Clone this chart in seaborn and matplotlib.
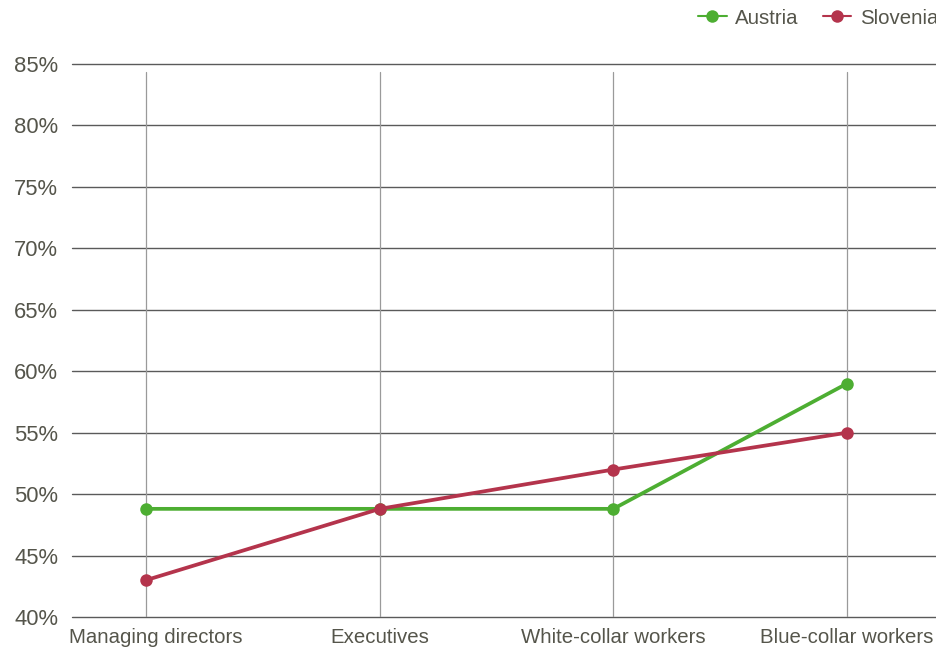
import matplotlib
matplotlib.use("Agg")
import matplotlib.pyplot as plt
import matplotlib.transforms as mtransforms
import seaborn as sns
import pandas as pd

categories = ["Managing directors", "Executives", "White-collar workers", "Blue-collar workers"]
austria = [48.8, 48.8, 48.8, 59.0]
slovenia = [43.0, 48.8, 52.0, 55.0]
y_ticks = [40, 45, 50, 55, 60, 65, 70, 75, 80, 85]
y_tick_labels = [f"{v}%" for v in y_ticks]

colors = {"Austria": "#4dae32", "Slovenia": "#b4344c"}
text_color = "#55554b"
fs = 14.7

df = pd.DataFrame({
    "category": categories * 2,
    "value": austria + slovenia,
    "country": ["Austria"] * len(categories) + ["Slovenia"] * len(categories),
})

sns.set_theme(style="white")
plt.rcParams["font.family"] = ["Liberation Sans", "DejaVu Sans"]

fig = plt.figure(figsize=(9.37, 6.48), dpi=100)
ax = fig.add_axes([72 / 937, 1 - 617 / 648, 1 - 72 / 937, (617 - 64) / 648])

sns.lineplot(data=df, x="category", y="value", hue="country", palette=colors,
             marker="o", markersize=9, markeredgewidth=0, linewidth=2.7,
             sort=False, ax=ax, zorder=3)

ax.set_ylim(40, 85)
ax.set_xlim(-0.317, 3.385)
ax.set_yticks(y_ticks)
ax.set_yticklabels(y_tick_labels)
ax.set_xticks(range(len(categories)))
ax.set_xticklabels(categories)
ax.set_xlabel("")
ax.set_ylabel("")

for s in ax.spines.values():
    s.set_visible(False)

for v in y_ticks:
    ax.axhline(v, color="#5a5a5a", linewidth=1.0, zorder=1, clip_on=False)
for i in range(len(categories)):
    ax.axvline(i, ymin=0, ymax=0.9855, color="#9a9a9a", linewidth=0.9, zorder=1)

ax.tick_params(axis="y", length=0, pad=10, labelsize=15.8, labelcolor=text_color)
ax.tick_params(axis="x", length=0, pad=8, labelsize=fs, labelcolor=text_color)

# keep the first category label inside the plot's left edge
first = ax.get_xticklabels()[0]
first.set_transform(first.get_transform()
                    + mtransforms.ScaledTranslation(0.1, 0, fig.dpi_scale_trans))

leg = ax.legend(loc="center left", bbox_to_anchor=(0.745, 0.972),
                bbox_transform=fig.transFigure, ncol=2, frameon=False,
                fontsize=fs, handlelength=1.4, handletextpad=0.4,
                columnspacing=1.2, borderaxespad=0, borderpad=0)
for t in leg.get_texts():
    t.set_color(text_color)
for h in leg.legend_handles:
    h.set_linewidth(1.5)

fig.savefig("out.png", dpi=100)
